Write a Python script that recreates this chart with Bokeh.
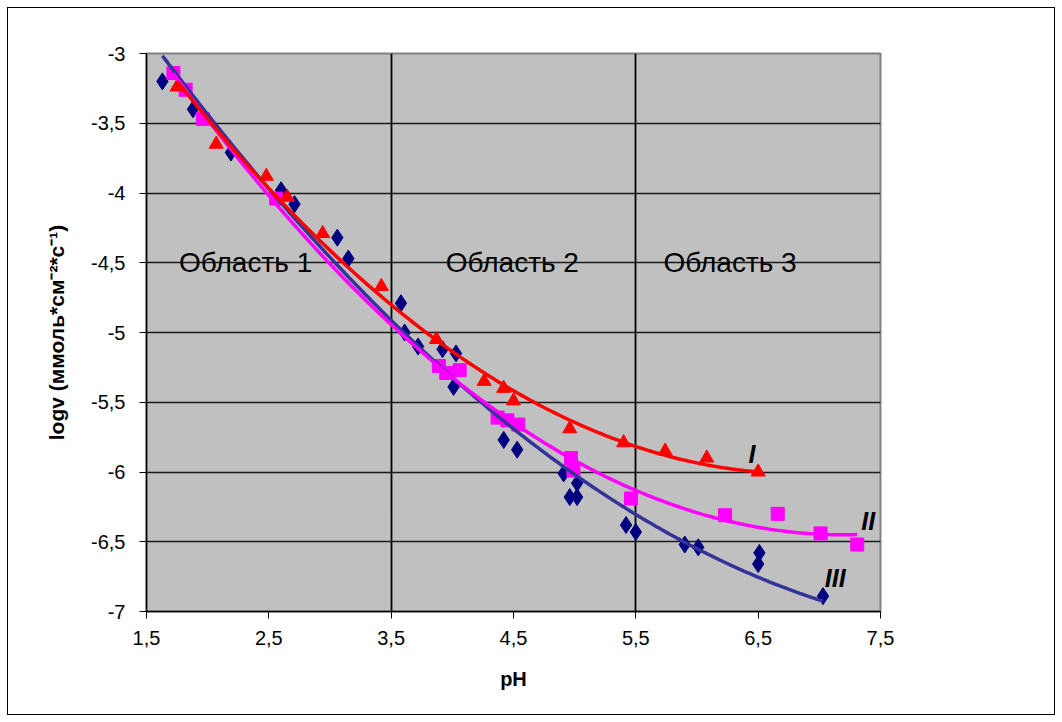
import numpy as np
from bokeh.plotting import figure
from bokeh.layouts import column
from bokeh.models import (FixedTicker, CustomJSTickFormatter, Label, Range1d)
from bokeh.embed import file_html
from bokeh.resources import INLINE

# ---- data ----
ph_I = [1.75, 2.07, 2.48, 2.65, 2.94, 3.42, 3.87, 4.26, 4.42, 4.50, 4.96, 5.40, 5.74, 6.08, 6.50]
logv_I = [-3.24, -3.65, -3.88, -4.03, -4.29, -4.67, -5.05, -5.35, -5.40, -5.49, -5.69, -5.79, -5.85, -5.90, -6.00]

ph_II = [1.72, 1.82, 1.96, 2.56, 3.89, 3.95, 4.06, 4.37, 4.45, 4.54, 4.97, 4.99, 5.46, 6.23, 6.66, 7.01, 7.31]
logv_II = [-3.14, -3.26, -3.47, -4.04, -5.24, -5.29, -5.27, -5.61, -5.63, -5.66, -5.90, -5.99, -6.19, -6.31, -6.30, -6.44, -6.52]

ph_III = [1.63, 1.88, 2.19, 2.60, 2.71, 3.06, 3.15, 3.58, 3.61, 3.72, 3.92, 4.03, 4.01, 4.42, 4.53,
          4.91, 5.02, 4.96, 5.02, 5.42, 5.50, 5.90, 6.01, 6.51, 6.50, 7.03]
logv_III = [-3.20, -3.40, -3.71, -3.98, -4.08, -4.32, -4.47, -4.79, -5.00, -5.10, -5.12, -5.15, -5.39, -5.77, -5.84,
            -6.01, -6.08, -6.18, -6.18, -6.38, -6.43, -6.52, -6.54, -6.58, -6.66, -6.89]

x_ticks = [1.5, 2.5, 3.5, 4.5, 5.5, 6.5, 7.5]
y_ticks = [-7, -6.5, -6, -5.5, -5, -4.5, -4, -3.5, -3]
region_bounds = [3.5, 5.5]
region_labels = ["Область 1", "Область 2", "Область 3"]
region_label_x = [2.31, 4.49, 6.27]
curve_labels = ["I", "II", "III"]
x_title = "pH"
y_title = "logv (ммоль*см\u207b\u00b2*с\u207b\u00b9)"

FONT = "Liberation Sans"

# figure sits inside a 1px-bordered box placed 7px from the window edge
p = figure(width=1046, height=706, output_backend="svg", toolbar_location=None,
           x_range=Range1d(1.5, 7.5), y_range=Range1d(-7, -3),
           min_border_left=138, min_border_right=174, min_border_top=45, min_border_bottom=103,
           background_fill_color="#C0C0C0", border_fill_color="white")

p.outline_line_color = "#808080"
p.outline_line_width = 2

fmt = CustomJSTickFormatter(code="return tick.toString().replace('.', ',');")
for ax, ticks in ((p.xaxis[0], x_ticks), (p.yaxis[0], y_ticks)):
    ax.ticker = FixedTicker(ticks=ticks)
    ax.formatter = fmt
    ax.major_tick_in = 0
    ax.major_tick_out = 7
    ax.minor_tick_line_color = None
    ax.axis_line_color = "black"
    ax.axis_line_width = 1.5
    ax.major_tick_line_color = "black"
    ax.major_label_text_font = FONT
    ax.major_label_text_font_size = "20px"
    ax.major_label_text_color = "black"
    ax.axis_label_text_font = FONT
    ax.axis_label_text_font_size = "21px"
    ax.axis_label_text_font_style = "bold"
    ax.axis_label_text_color = "black"

p.xaxis.axis_label = x_title
p.xaxis.axis_label_text_font_size = "20px"
p.yaxis.axis_label = y_title
p.xaxis.major_label_standoff = 12
p.xaxis.axis_label_standoff = 20
p.yaxis.major_label_standoff = 14
p.yaxis.axis_label_standoff = 20

p.ygrid.ticker = FixedTicker(ticks=y_ticks)
p.ygrid.grid_line_color = "#1a1a1a"
p.ygrid.grid_line_width = 1.3
p.xgrid.ticker = FixedTicker(ticks=region_bounds)
p.xgrid.grid_line_color = "black"
p.xgrid.grid_line_width = 1.8

# trend lines (quadratic, like the spreadsheet trendlines)
def trend(xs, ys):
    c = np.polyfit(xs, ys, 2)
    xx = np.linspace(min(xs), max(xs), 200)
    return xx, np.polyval(c, xx)

series = [
    (ph_III, logv_III, "#333399", "#000080", "diamond", 17),
    (ph_II, logv_II, "#FF00FF", "#FF00FF", "square", 13),
    (ph_I, logv_I, "#FF0000", "#FF0000", "triangle", 14),
]
for xs, ys, lc, mc, mk, sz in series:
    p.scatter(xs, ys, marker=mk, size=sz, fill_color=mc, line_color=mc)
for xs, ys, lc, mc, mk, sz in series:
    xx, yy = trend(xs, ys)
    p.line(xx, yy, line_color=lc, line_width=3.5)

for txt, xv in zip(region_labels, region_label_x):
    p.add_layout(Label(x=xv, y=-4.5, text=txt, text_align="center", text_baseline="middle",
                       text_font=FONT, text_font_size="28px", text_color="black"))

for txt, (xv, yv) in zip(curve_labels, [(6.45, -5.87), (7.40, -6.35), (7.13, -6.76)]):
    p.add_layout(Label(x=xv, y=yv, text=txt, text_align="center", text_baseline="middle",
                       text_font=FONT, text_font_size="25px", text_font_style="bold italic",
                       text_color="black"))

layout = column(p, styles={"border": "1px solid black", "margin": "7px 0 0 7px",
                           "background-color": "white"})

open("out.html", "w").write(file_html(layout, INLINE))
